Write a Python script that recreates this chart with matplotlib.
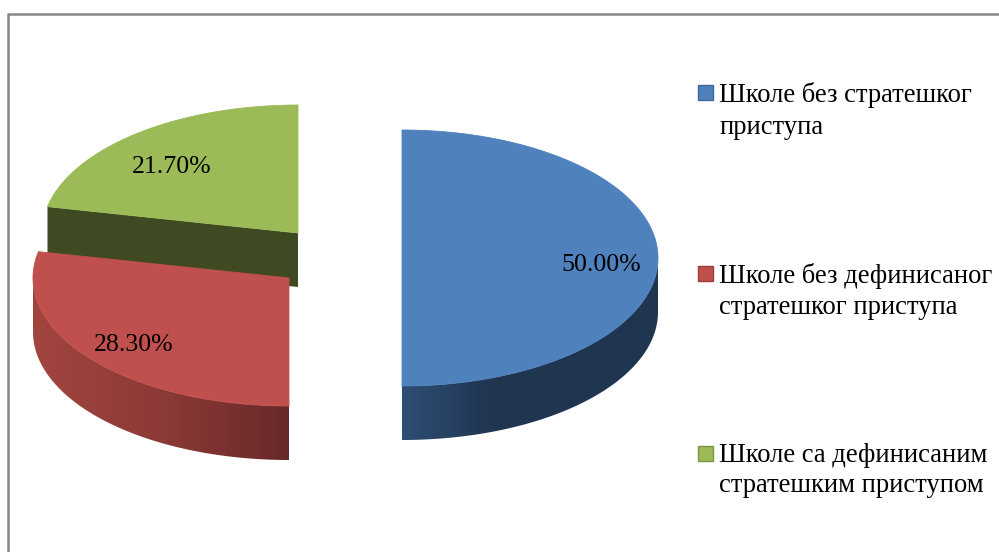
import numpy as np
import matplotlib
matplotlib.use("Agg")
import matplotlib.pyplot as plt
from matplotlib.patches import Polygon, Rectangle
from matplotlib.colors import LinearSegmentedColormap

plt.rcParams['font.family'] = ['Liberation Serif', 'DejaVu Serif']

# Data
categories = [["Школе без стратешког", "приступа"],
              ["Школе без дефинисаног", "стратешког приступа"],
              ["Школе са дефинисаним", "стратешким приступом"]]
values = [50.00, 28.30, 21.70]
value_labels = ["50.00%", "28.30%", "21.70%"]
top_colors = ["#4F81BD", "#C0504D", "#9BBB59"]
edge_colors = ["#3F6797", "#9A403E", "#7C9647"]
wall_stops = [[(0, "#2E4E74"), (0.35, "#1F3550"), (1, "#1F3550")],
              [(0, "#A2453F"), (0.5, "#8C3A37"), (1, "#682828")]]
cut_face = "#3F4A22"

# Layout in pixels
centers = [(402, 258), (289, 278), (298, 233)]
RX, RY, DEPTH = 256, 128, 54
label_pos = [(601.5, 271), (133.5, 351), (171.5, 173)]
legend_base = [(102, 133.5), (283, 314), (461.5, 492.5)]
legend_mark = [92.5, 273, 453]
FS_LEG, FS_VAL = 19.2, 18.6

fig = plt.figure(figsize=(9.99, 5.52), dpi=100)
ax = fig.add_axes([0, 0, 1, 1])
ax.set_xlim(0, 999)
ax.set_ylim(552, 0)
ax.axis('off')

ax.plot([7.5, 7.5, 999], [552, 13.5, 13.5], color="#868686", lw=1.8,
        solid_capstyle='butt', zorder=1)


def ell(c, deg):
    a = np.radians(deg)
    return np.column_stack([c[0] + RX*np.cos(a), c[1] - RY*np.sin(a)])


# Slice spans, clockwise from 12 o'clock, derived from the values
bounds = 90 - 360*np.cumsum([0] + values)/100


def draw_wall(i, a0, a1, z):
    c = centers[i]
    top = ell(c, np.linspace(a0, a1, 200))
    wall_xy = np.vstack([top, (top + [0, DEPTH])[::-1]])
    wall = Polygon(wall_xy, closed=True, fc="none", ec="none", zorder=z)
    ax.add_patch(wall)
    cmap = LinearSegmentedColormap.from_list("w", wall_stops[i])
    im = ax.imshow(np.linspace(0, 1, 256).reshape(1, -1), cmap=cmap, aspect='auto',
                   extent=[wall_xy[:, 0].min(), wall_xy[:, 0].max(),
                           wall_xy[:, 1].max(), wall_xy[:, 1].min()],
                   zorder=z, interpolation='bilinear')
    im.set_clip_path(wall)


def draw_top(i, z):
    c = centers[i]
    arc = ell(c, np.linspace(bounds[i], bounds[i+1], 300))
    ax.add_patch(Polygon(np.vstack([[c], arc]), closed=True, fc=top_colors[i],
                         ec=top_colors[i], lw=0.6, zorder=z))


# Green slice: the cut face toward the viewer
c = centers[2]
rim = ell(c, [bounds[2]])[0]
ax.add_patch(Polygon([rim, c, (c[0], c[1]+DEPTH), (rim[0], rim[1]+DEPTH)],
                     closed=True, fc=cut_face, ec="none", zorder=2))
draw_top(2, 2.1)

# Red slice
draw_wall(1, 180, 270, 3)
draw_top(1, 3.1)

# Blue slice
draw_wall(0, -90, 0, 3)
draw_top(0, 3.1)

ax.set_xlim(0, 999)
ax.set_ylim(552, 0)

for (x, y), s in zip(label_pos, value_labels):
    ax.text(x, y, s, ha='center', va='baseline', fontsize=FS_VAL, color='black', zorder=5)

for i, lines in enumerate(categories):
    ax.add_patch(Rectangle((698, legend_mark[i]-7.5), 15, 15, fc=top_colors[i],
                           ec=edge_colors[i], lw=1, zorder=5))
    for line, y in zip(lines, legend_base[i]):
        ax.text(719, y, line, ha='left', va='baseline', fontsize=FS_LEG,
                color='black', zorder=5)

fig.savefig("out.png", dpi=100, facecolor="white")
